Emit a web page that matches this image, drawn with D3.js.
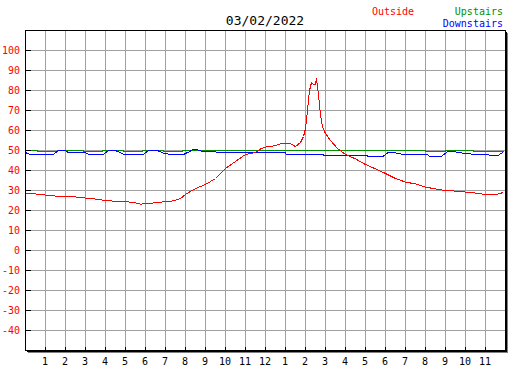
<!DOCTYPE html>
<html>
<head>
<meta charset="utf-8">
<script src="https://cdn.jsdelivr.net/npm/d3@7"></script>
<style>
  body { margin: 0; background: #fff; }
  text { font-family: "DejaVu Sans Mono", monospace; }
</style>
</head>
<body>
<div id="chart"></div>
<script>
// chart data
var title = "03/02/2022";
var hourLabels = ["1","2","3","4","5","6","7","8","9","10","11","12",
                  "1","2","3","4","5","6","7","8","9","10","11"];
var tempTicks = [-40, -30, -20, -10, 0, 10, 20, 30, 40, 50, 60, 70, 80, 90, 100];

// outside temperature (hours since midnight, degrees)
var outsideTimes = [0, 0.5, 1, 1.5, 2, 2.5, 3, 3.5, 4, 4.5, 5, 5.5, 5.75, 6.25, 6.75, 7.25, 7.5, 7.75,
                    8, 8.5, 9, 9.5, 10, 10.5, 11, 11.5, 11.75, 12, 12.25, 12.5, 12.75, 13, 13.25, 13.5,
                    13.75, 13.9, 14, 14.1, 14.2, 14.3, 14.4, 14.5, 14.55, 14.65, 14.75, 14.85, 15, 15.25,
                    15.6, 16, 16.5, 17, 17.5, 18, 18.5, 19, 19.5, 20, 20.5, 21, 21.5, 22, 22.5, 23, 23.5,
                    23.75, 23.9];
var outsideTemps = [28.6, 28.3, 27.7, 27.2, 27, 26.8, 26.2, 25.7, 25, 24.6, 24.5, 23.8, 23.2, 23.6, 24.2, 24.5, 25.2, 26,
                    28, 31, 33, 36, 41, 44.5, 48, 49, 50.8, 51.7, 52, 52.5, 53.3, 53.5, 53.3, 52,
                    54, 57, 61, 70, 80, 84, 83, 83, 86, 78, 68, 61.7, 58.5, 55,
                    51, 48, 45.8, 43, 40.8, 38.5, 36, 34.2, 33.3, 31.7, 30.8, 30, 29.7, 29.2, 28.7, 28, 28,
                    28.5, 29.3];

// upstairs (steps)
var upTimes = [0, 0.6, 1.6, 2.9, 3.85, 4.9, 5.85, 6.9, 7.85, 20, 21, 22.4, 23.9];
var upTemps = [50, 49.5, 50, 49.5, 50, 49.5, 50, 49.5, 50, 49.5, 50, 49.5, 49.5];

// downstairs
var downTimes = [0, 0.25, 1.35, 1.65, 2, 2.15, 3, 3.25, 3.85, 4.15, 4.5, 4.75, 5, 5.85, 6.15, 6.6, 6.85,
                 7.35, 7.85, 8.15, 8.35, 8.6, 8.85, 9.5, 9.6, 13, 13.05, 14.9, 14.95, 17.1, 17.15, 17.85,
                 18.1, 18.5, 18.75, 18.9, 20.1, 20.25, 20.75, 21.1, 21.5, 21.75, 22.25, 22.5, 23.15, 23.25,
                 23.6, 23.9];
var downTemps = [49, 47.8, 47.8, 50, 50, 48.8, 48.8, 47.8, 47.8, 50, 50, 48.8, 47.8, 47.8, 50, 50, 48.8,
                 47.8, 47.8, 49.2, 50.3, 50.3, 49.5, 49.5, 48.8, 48.8, 47.8, 47.8, 47.3, 47.3, 46.8, 46.8,
                 48.8, 48.8, 48.3, 47.8, 47.8, 46.8, 46.8, 49.3, 49.3, 48.8, 48.3, 47.8, 47.8, 47.3,
                 47.3, 49.3];

var legend = [
  {name: "Outside", color: "#ff0000"},
  {name: "Upstairs", color: "#009000"},
  {name: "Downstairs", color: "#0000ff"}
];

// set the dimensions
var width = 527, height = 370;
var plot = {left: 25, top: 30, right: 505, bottom: 350};

var x = d3.scaleLinear().domain([0, 24]).range([plot.left, plot.right]);
var y = d3.scaleLinear().domain([-50, 110]).range([plot.bottom, plot.top]);

var svg = d3.select("#chart").append("svg")
    .attr("width", width)
    .attr("height", height);

// half pixel offset so 1px lines land on whole pixels
var g = svg.append("g")
    .attr("transform", "translate(0.5,0.5)")
    .attr("shape-rendering", "crispEdges");

// grid
g.append("g").selectAll("line")
    .data(d3.range(1, 24))
  .enter().append("line")
    .attr("x1", x).attr("x2", x)
    .attr("y1", plot.top).attr("y2", plot.bottom)
    .attr("stroke", "#a0a0a0");

g.append("g").selectAll("line")
    .data(d3.range(-40, 110, 10))
  .enter().append("line")
    .attr("x1", plot.left).attr("x2", plot.right)
    .attr("y1", y).attr("y2", y)
    .attr("stroke", "#a0a0a0");

// lines
function series(times, temps, color, curve) {
  var pts = times.map(function(t, i) { return [t, temps[i]]; });
  var line = d3.line()
    .x(function(d) { return x(d[0]); })
    .y(function(d) { return y(d[1]); })
    .curve(curve || d3.curveLinear);
  g.append("path")
    .datum(pts)
    .attr("d", line)
    .attr("fill", "none")
    .attr("stroke", color)
    .attr("stroke-width", 1);
}
series(upTimes, upTemps, legend[1].color, d3.curveStepAfter);
series(downTimes, downTemps, legend[2].color);
series(outsideTimes, outsideTemps, legend[0].color);

// frame with shadow
g.append("rect")
    .attr("x", plot.left).attr("y", plot.top)
    .attr("width", plot.right - plot.left)
    .attr("height", plot.bottom - plot.top)
    .attr("fill", "none")
    .attr("stroke", "#000");
g.append("path")
    .attr("d", "M" + (plot.left + 1) + "," + (plot.bottom + 1) + "H" + (plot.right + 1) + "V" + (plot.top + 1))
    .attr("fill", "none").attr("stroke", "#000");
g.append("path")
    .attr("d", "M" + (plot.left + 2) + "," + (plot.bottom + 2) + "H" + (plot.right + 2) + "V" + (plot.top + 2))
    .attr("fill", "none").attr("stroke", "#808080");

// ticks
g.append("g").selectAll("line")
    .data(tempTicks)
  .enter().append("line")
    .attr("x1", plot.left).attr("x2", plot.left + 5)
    .attr("y1", y).attr("y2", y)
    .attr("stroke", "#000");

g.append("g").selectAll("line")
    .data(hourLabels)
  .enter().append("line")
    .attr("x1", function(d, i) { return x(i + 1); })
    .attr("x2", function(d, i) { return x(i + 1); })
    .attr("y1", plot.bottom - 4).attr("y2", plot.bottom)
    .attr("stroke", "#000");

// labels
svg.append("g").selectAll("text")
    .data(tempTicks)
  .enter().append("text")
    .attr("x", 20)
    .attr("y", function(d) { return y(d) + 4; })
    .attr("text-anchor", "end")
    .attr("font-size", 10)
    .attr("fill", "#ff0000")
    .text(function(d) { return d; });

svg.append("g").selectAll("text")
    .data(hourLabels)
  .enter().append("text")
    .attr("x", function(d, i) { return x(i + 1); })
    .attr("y", 365)
    .attr("text-anchor", "middle")
    .attr("font-size", 10)
    .attr("fill", "#000")
    .text(function(d) { return d; });

svg.append("text")
    .attr("x", (plot.left + plot.right) / 2)
    .attr("y", 25)
    .attr("text-anchor", "middle")
    .attr("font-size", 13)
    .attr("fill", "#000")
    .text(title);

// legend
svg.append("text")
    .attr("x", 372).attr("y", 15)
    .attr("font-size", 10)
    .attr("fill", legend[0].color)
    .text(legend[0].name);
svg.append("text")
    .attr("x", 503).attr("y", 15)
    .attr("text-anchor", "end")
    .attr("font-size", 10)
    .attr("fill", legend[1].color)
    .text(legend[1].name);
svg.append("text")
    .attr("x", 503).attr("y", 27)
    .attr("text-anchor", "end")
    .attr("font-size", 10)
    .attr("fill", legend[2].color)
    .text(legend[2].name);
</script>
</body>
</html>
